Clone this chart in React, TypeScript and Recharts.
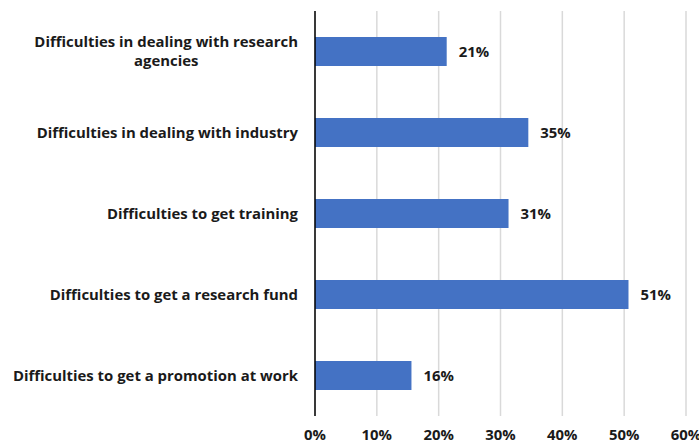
import React from "react";
import { BarChart, Bar, XAxis, YAxis, CartesianGrid, LabelList } from "recharts";

const categories = [
  "Difficulties in dealing with research agencies",
  "Difficulties in dealing with industry",
  "Difficulties to get training",
  "Difficulties to get a research fund",
  "Difficulties to get a promotion at work",
];
const values = [21.3, 34.5, 31.3, 50.7, 15.6];
const xTicks = [0, 10, 20, 30, 40, 50, 60];

const data = categories.map((name, i) => ({ name, value: values[i] }));

const FS = 14.9;
const FONT = `bold ${FS}px 'Open Sans'`;

function measure(text: string): number {
  if (typeof document === "undefined") return text.length * 7.5;
  const c = document.createElement("canvas");
  const ctx = c.getContext("2d");
  if (!ctx) return text.length * 7.5;
  ctx.font = FONT;
  return ctx.measureText(text).width;
}

const MAX_W = 295;

function wrap(text: string): string[] {
  const words = text.split(" ");
  const lines: string[] = [];
  let cur = "";
  for (const w of words) {
    const t = cur ? cur + " " + w : w;
    if (measure(t) > MAX_W && cur) {
      lines.push(cur);
      cur = w;
    } else cur = t;
  }
  if (cur) lines.push(cur);
  return lines;
}

const textStyle = { fontFamily: "'Open Sans'", fontWeight: "bold", fontSize: FS, fill: "#1a1a1a" };

const YTick = (props: any) => {
  const { x, y, payload } = props;
  const lines = wrap(String(payload.value));
  const lh = 19;
  if (lines.length === 1) {
    return (
      <text x={x} y={y} dy="0.35em" textAnchor="end" style={textStyle}>
        {lines[0]}
      </text>
    );
  }
  const w = Math.max(...lines.map(measure));
  const cx = x - w / 2;
  const start = y - ((lines.length - 1) * lh) / 2;
  return (
    <text textAnchor="middle" style={textStyle}>
      {lines.map((l, i) => (
        <tspan key={i} x={cx} y={start + i * lh} dy="0.35em">
          {l}
        </tspan>
      ))}
    </text>
  );
};

export default function App() {
  return (
    <div style={{ position: "absolute", left: 0, top: 0, background: "#fff" }}>
      <BarChart
        width={699}
        height={443}
        data={data}
        layout="vertical"
        margin={{ top: 11, right: 13, bottom: 0, left: 0 }}
        barCategoryGap="32%"
      >
        <CartesianGrid horizontal={false} vertical={true} stroke="#d9d9d9" strokeWidth={1.5} />
        <XAxis
          type="number"
          domain={[0, 60]}
          ticks={xTicks}
          tickFormatter={(v: number) => `${v}%`}
          axisLine={false}
          tickLine={false}
          height={27}
          tickMargin={7}
          interval={0}
          tick={textStyle}
        />
        <YAxis
          type="category"
          dataKey="name"
          width={315}
          axisLine={{ stroke: "#000", strokeWidth: 1.5 }}
          tickLine={false}
          tickMargin={11}
          interval={0}
          tick={<YTick />}
        />
        <Bar dataKey="value" fill="#4472C4" isAnimationActive={false}>
          <LabelList
            dataKey="value"
            position="right"
            offset={12}
            formatter={(v: number) => `${Math.round(v)}%`}
            style={textStyle}
          />
        </Bar>
      </BarChart>
    </div>
  );
}
